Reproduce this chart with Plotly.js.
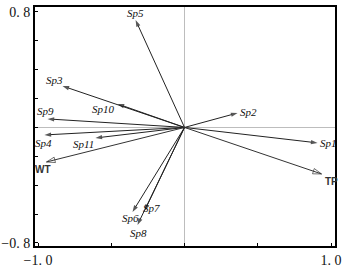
<!DOCTYPE html>
<html>
<head>
<meta charset="utf-8">
<script src="https://cdn.plot.ly/plotly-3.0.1.min.js"></script>
<style>html,body{margin:0;padding:0;background:#fff}#chart{width:348px;height:272px}</style>
</head>
<body>
<div id="chart"></div>
<script>
// Species arrows (RDA biplot)
const speciesNames = ['Sp1','Sp2','Sp3','Sp4','Sp5','Sp6','Sp7','Sp8','Sp9','Sp10','Sp11'];
const speciesX = [0.908, 0.362, -0.833, -0.956, -0.334, -0.355, -0.273, -0.321, -0.935, -0.457, -0.608];
const speciesY = [-0.107, 0.100, 0.287, -0.052, 0.744, -0.585, -0.578, -0.675, 0.059, 0.163, -0.073];
// Environmental variable arrows
const envNames = ['WT','TP'];
const envX = [-0.942, 0.935];
const envY = [-0.239, -0.322];
// Axis tick labels
const xTickVals = [-1.0, -0.5, 0, 0.5, 1.0];
const xTickText = ['\u22121.\u20050', '', '', '', '1.\u20050'];
const yTickVals = [-0.8, -0.6, -0.4, -0.2, 0, 0.2, 0.4, 0.6, 0.8];
const yTickText = ['\u22120.\u20058', '', '', '', '', '', '', '', '0.\u20058'];

// label pixel offsets (style only)
const spShift = {
  Sp1:[11,0], Sp2:[11,1], Sp3:[-8,6], Sp4:[-1,-8], Sp5:[0,7], Sp6:[-2,-6],
  Sp7:[7,3], Sp8:[1,-8], Sp9:[-2,8], Sp10:[-14,-5], Sp11:[-12,-6]
};
const envShift = {WT:[-4,-8], TP:[10,-8]};

const traces = [];
const annotations = [];
speciesNames.forEach((n, i) => {
  traces.push({
    type:'scatter', mode:'lines+markers', x:[0, speciesX[i]], y:[0, speciesY[i]],
    line:{color:'#222', width:1},
    marker:{symbol:'arrow', size:[0,7], color:'#111', angleref:'previous', line:{width:0}},
    hoverinfo:'skip', showlegend:false, cliponaxis:false
  });
  annotations.push({
    x:speciesX[i], y:speciesY[i], xref:'x', yref:'y', showarrow:false,
    text:'<i>'+n+'</i>', xshift:spShift[n][0], yshift:spShift[n][1],
    font:{family:'Liberation Serif, DejaVu Serif, serif', size:11, color:'#111'}
  });
});
envNames.forEach((n, i) => {
  traces.push({
    type:'scatter', mode:'lines+markers', x:[0, envX[i]], y:[0, envY[i]],
    line:{color:'#333', width:1},
    marker:{symbol:'arrow-open', size:[0,9], color:'#333', angleref:'previous', line:{width:1, color:'#333'}},
    hoverinfo:'skip', showlegend:false, cliponaxis:false
  });
  annotations.push({
    x:envX[i], y:envY[i], xref:'x', yref:'y', showarrow:false,
    text:'<b>'+n+'</b>', xshift:envShift[n][0], yshift:envShift[n][1],
    font:{family:'Liberation Sans, Arial, sans-serif', size:10, color:'#333'}
  });
});

const layout = {
  width:348, height:272,
  margin:{l:35, r:13, t:7, b:26, pad:0},
  paper_bgcolor:'#fff', plot_bgcolor:'#fff',
  showlegend:false,
  xaxis:{
    range:[-1.0205, 1.027], tickvals:xTickVals, ticktext:xTickText,
    ticks:'inside', ticklen:3, tickcolor:'#000', tickwidth:1,
    showgrid:false, zeroline:true, zerolinecolor:'#bdbdbd', zerolinewidth:1,
    showline:true, mirror:true, linecolor:'#000', linewidth:2,
    tickfont:{family:'Liberation Serif, DejaVu Serif, serif', size:14, color:'#111'},
    fixedrange:true
  },
  yaxis:{
    range:[-0.821, 0.834], tickvals:yTickVals, ticktext:yTickText,
    ticks:'inside', ticklen:3, tickcolor:'#000', tickwidth:1,
    showgrid:false, zeroline:true, zerolinecolor:'#bdbdbd', zerolinewidth:1,
    showline:true, mirror:true, linecolor:'#000', linewidth:2,
    tickfont:{family:'Liberation Serif, DejaVu Serif, serif', size:14, color:'#111'},
    fixedrange:true
  },
  annotations: annotations
};
Plotly.newPlot('chart', traces, layout, {displayModeBar:false, staticPlot:true});
</script>
</body>
</html>
